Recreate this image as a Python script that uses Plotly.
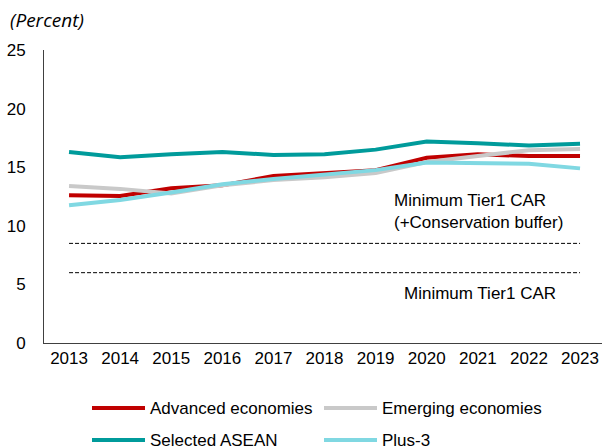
import plotly.graph_objects as go

years = [2013, 2014, 2015, 2016, 2017, 2018, 2019, 2020, 2021, 2022, 2023]
advanced = [12.6, 12.55, 13.2, 13.45, 14.25, 14.5, 14.75, 15.8, 16.1, 15.95, 15.95]
emerging = [13.4, 13.15, 12.75, 13.45, 13.9, 14.15, 14.5, 15.45, 15.95, 16.45, 16.55]
asean = [16.3, 15.85, 16.1, 16.3, 16.05, 16.1, 16.5, 17.2, 17.05, 16.85, 17.0]
plus3 = [11.75, 12.2, 12.85, 13.55, 14.0, 14.4, 14.75, 15.4, 15.35, 15.3, 14.9]
names = ["Advanced economies", "Emerging economies", "Selected ASEAN", "Plus-3"]
colors = ["#C00000", "#C9C9C9", "#009B9B", "#80D8E2"]
series = [advanced, emerging, asean, plus3]
thresholds = [8.5, 6.0]
threshold_labels = ["Minimum Tier1 CAR<br>(+Conservation buffer)", "Minimum Tier1 CAR"]

W, H = 602, 447
L, R, T, B = 44, 0, 50, 447 - 343
pw, ph = W - L - R, H - T - B

def px(x):  # page pixel x -> paper
    return (x - L) / pw

def py(y):  # page pixel y -> paper
    return (343 - y) / ph

FONT = "Liberation Sans, Arial, sans-serif"

fig = go.Figure()
for name, vals, col in zip(names, series, colors):
    fig.add_trace(go.Scatter(x=years, y=vals, mode="lines", name=name,
                             line=dict(color=col, width=4), showlegend=False))

for t in thresholds:
    fig.add_trace(go.Scatter(x=[years[0], years[-1]], y=[t, t], mode="lines",
                             line=dict(color="#000000", width=1, dash="4px,2px"),
                             showlegend=False, hoverinfo="skip"))

shapes = []
annotations = []
annotations.append(dict(x=px(392), y=py(211), xref="paper", yref="paper",
                        text=threshold_labels[0], showarrow=False, xanchor="left",
                        yanchor="middle", align="left",
                        font=dict(family=FONT, size=17, color="#000")))
annotations.append(dict(x=px(402), y=py(293), xref="paper", yref="paper",
                        text=threshold_labels[1], showarrow=False, xanchor="left",
                        yanchor="middle", align="left",
                        font=dict(family=FONT, size=17, color="#000")))
annotations.append(dict(x=px(8), y=py(20), xref="paper", yref="paper",
                        text="<i>(Percent)</i>", showarrow=False, xanchor="left",
                        yanchor="middle",
                        font=dict(family="Open Sans, sans-serif", size=19, color="#000")))

pos = [(92, 408), (324, 408), (92, 440), (324, 440)]
for (x0, y0), name, col in zip(pos, names, colors):
    shapes.append(dict(type="line", xref="paper", yref="paper",
                       x0=px(x0), x1=px(x0 + 53), y0=py(y0), y1=py(y0),
                       line=dict(color=col, width=4)))
    annotations.append(dict(x=px(x0 + 56), y=py(y0), xref="paper", yref="paper",
                            text=name, showarrow=False, xanchor="left", yanchor="middle",
                            font=dict(family=FONT, size=17, color="#000")))

fig.update_layout(
    width=W, height=H,
    margin=dict(l=L, r=R, t=T, b=B, pad=0),
    paper_bgcolor="white", plot_bgcolor="white",
    font=dict(family=FONT, size=17, color="#000"),
    shapes=shapes, annotations=annotations,
    showlegend=False,
)
fig.update_xaxes(range=[2012.51, 2023.43], tickvals=years, ticktext=[str(y) for y in years],
                 showgrid=False, zeroline=False, showline=True, linecolor="#404040",
                 linewidth=1, ticks="", tickfont=dict(size=17), fixedrange=True,
                 ticklabeloverflow="allow")
fig.update_yaxes(range=[0, 25], dtick=5, showgrid=False, zeroline=False, showline=True,
                 linecolor="#404040", linewidth=1, ticks="", ticklabelstandoff=14,
                 tickfont=dict(size=17), fixedrange=True)

fig.write_html("out.html", config={"displayModeBar": False},
               post_script="document.body.style.margin='0';document.body.style.overflow='hidden';")
